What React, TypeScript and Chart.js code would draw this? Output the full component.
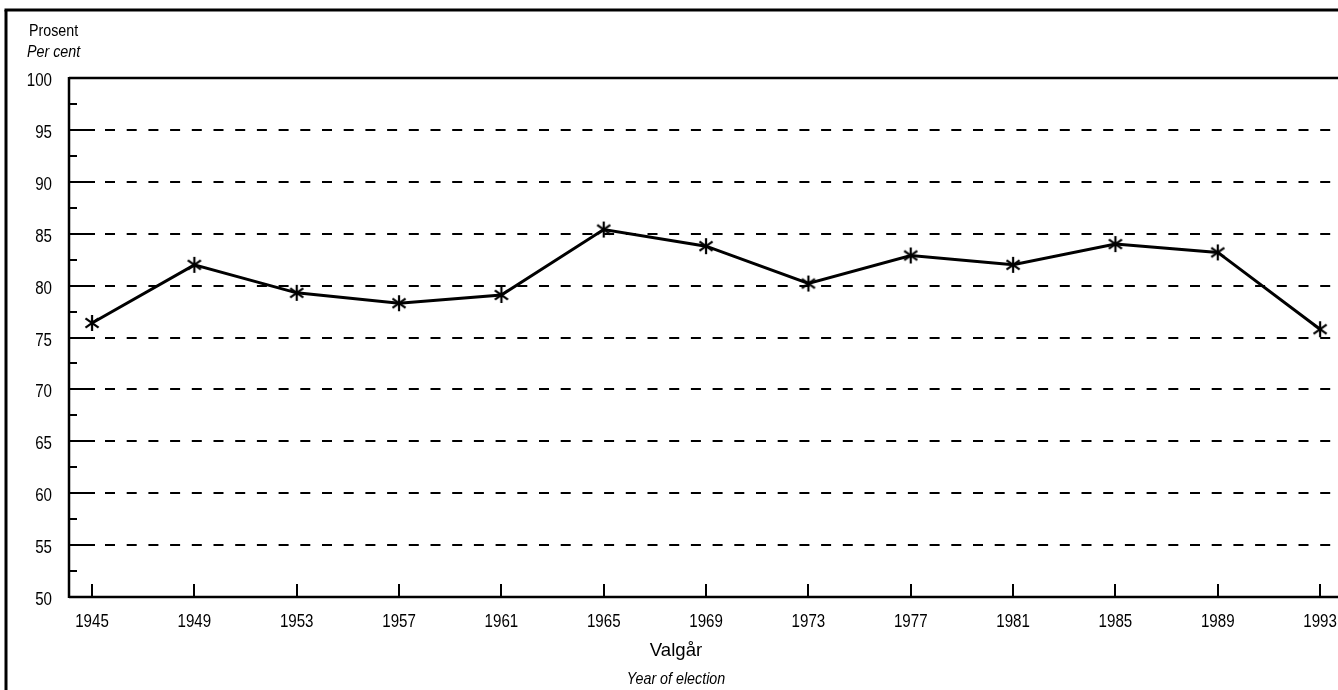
import React, { useEffect, useRef } from 'react';
import { Chart, registerables } from 'chart.js';

Chart.register(...registerables);

const years = [1945, 1949, 1953, 1957, 1961, 1965, 1969, 1973, 1977, 1981, 1985, 1989, 1993];
const turnout = [76.4, 82.0, 79.3, 78.3, 79.1, 85.4, 83.8, 80.2, 82.9, 82.0, 84.0, 83.2, 75.8];
const yTicks = [50, 55, 60, 65, 70, 75, 80, 85, 90, 95, 100];
const yMinorTicks = [52.5, 57.5, 62.5, 67.5, 72.5, 77.5, 82.5, 87.5, 92.5, 97.5];
const yTitle = ['Prosent', 'Per cent'];
const xTitle = ['Valgår', 'Year of election'];

const FAMILY = '"Liberation Sans", Arial, sans-serif';
const SQUEEZE = 0.84;

function makeAsterisk(): HTMLCanvasElement {
  const c = document.createElement('canvas');
  const s = 20;
  c.width = s;
  c.height = s;
  const g = c.getContext('2d')!;
  g.strokeStyle = '#000';
  g.lineWidth = 2.2;
  g.lineCap = 'butt';
  const r = 8;
  const cx = s / 2;
  const cy = s / 2;
  for (const deg of [90, 35, 145]) {
    const t = (deg * Math.PI) / 180;
    g.beginPath();
    g.moveTo(cx - r * Math.cos(t), cy - r * Math.sin(t));
    g.lineTo(cx + r * Math.cos(t), cy + r * Math.sin(t));
    g.stroke();
  }
  return c;
}

function narrowText(
  ctx: CanvasRenderingContext2D,
  text: string,
  x: number,
  y: number,
  align: CanvasTextAlign,
  font: string,
  squeeze = SQUEEZE
) {
  ctx.save();
  ctx.font = font;
  ctx.textAlign = align;
  ctx.textBaseline = 'alphabetic';
  ctx.translate(x, y);
  ctx.scale(squeeze, 1);
  ctx.fillText(text, 0, 0);
  ctx.restore();
}

const decorPlugin = {
  id: 'decor',
  beforeDatasetsDraw(chart: any) {
    const { ctx, chartArea: a, scales } = chart;
    const x = scales.x;
    const y = scales.y;
    const seg = (x1: number, y1: number, x2: number, y2: number) => {
      ctx.beginPath();
      ctx.moveTo(x1, y1);
      ctx.lineTo(x2, y2);
      ctx.stroke();
    };
    ctx.save();
    ctx.strokeStyle = '#000';
    ctx.fillStyle = '#000';
    ctx.lineCap = 'butt';

    // outer frame (left + top)
    ctx.lineWidth = 3;
    seg(6, 10, 6, 690);
    seg(4.5, 10, 1338, 10);

    // dashed horizontal grid lines
    ctx.lineWidth = 2;
    for (const v of yTicks) {
      if (v === 50 || v === 100) continue;
      const py = Math.round(y.getPixelForValue(v));
      ctx.setLineDash([]);
      seg(a.left, py, a.left + 26, py);
      ctx.setLineDash([10, 11.7]);
      seg(a.left + 36, py, a.right - 6, py);
    }
    ctx.setLineDash([]);

    // minor ticks on y axis
    for (const v of yMinorTicks) {
      const py = Math.round(y.getPixelForValue(v));
      seg(a.left, py, a.left + 8, py);
    }

    // x ticks (inward)
    for (const yr of years) {
      const px = Math.round(x.getPixelForValue(yr));
      seg(px, a.bottom, px, a.bottom - 13);
    }

    // axes + top line
    ctx.lineWidth = 2.5;
    seg(a.left, a.top, a.right, a.top);
    seg(a.left, a.top - 1, a.left, a.bottom + 1);
    seg(a.left, a.bottom, a.right, a.bottom);

    // tick labels
    const tickFont = `18px ${FAMILY}`;
    for (const v of yTicks) {
      const py = y.getPixelForValue(v);
      narrowText(ctx, String(v), 52, py + 8, 'right', tickFont);
    }
    for (const yr of years) {
      const px = x.getPixelForValue(yr);
      narrowText(ctx, String(yr), px, 627, 'center', tickFont);
    }

    // titles
    narrowText(ctx, yTitle[0], 29, 36, 'left', `17px ${FAMILY}`);
    narrowText(ctx, yTitle[1], 27, 57, 'left', `italic 17px ${FAMILY}`);
    narrowText(ctx, xTitle[0], 676, 656, 'center', `19px ${FAMILY}`, 0.98);
    narrowText(ctx, xTitle[1], 676, 684, 'center', `italic 17px ${FAMILY}`);
    ctx.restore();
  },
};

export default function App() {
  const ref = useRef<HTMLCanvasElement | null>(null);

  useEffect(() => {
    document.body.style.margin = '0';
    document.body.style.background = '#fff';
    const canvas = ref.current!;
    const marker = makeAsterisk();
    const chart = new Chart(canvas, {
      type: 'line',
      data: {
        datasets: [
          {
            data: years.map((yr, i) => ({ x: yr, y: turnout[i] })),
            borderColor: '#000',
            backgroundColor: '#000',
            borderWidth: 3,
            tension: 0,
            pointStyle: marker as any,
            pointRadius: 9,
            clip: false as any,
          },
        ],
      },
      plugins: [decorPlugin],
      options: {
        animation: false,
        responsive: false,
        maintainAspectRatio: false,
        devicePixelRatio: 1,
        layout: { autoPadding: false, padding: { top: 78, left: 0, right: 0, bottom: 0 } },
        plugins: {
          legend: { display: false },
          tooltip: { enabled: false },
          title: { display: false },
        },
        scales: {
          x: {
            type: 'linear',
            min: 1944.1,
            max: 1993.7,
            afterBuildTicks: (scale: any) => {
              scale.ticks = years.map((v) => ({ value: v }));
            },
            afterFit: (scale: any) => {
              scale.height = 93;
              scale.paddingLeft = 0;
              scale.paddingRight = 0;
            },
            grid: { display: false, drawTicks: false },
            border: { display: false },
            ticks: { display: false },
          },
          y: {
            type: 'linear',
            min: 50,
            max: 100,
            afterBuildTicks: (scale: any) => {
              scale.ticks = yTicks.map((v) => ({ value: v }));
            },
            afterFit: (scale: any) => {
              scale.width = 69;
              scale.paddingTop = 0;
              scale.paddingBottom = 0;
            },
            grid: { display: false, drawTicks: false },
            border: { display: false },
            ticks: { display: false },
          },
        },
      },
    });
    return () => chart.destroy();
  }, []);

  return <canvas ref={ref} width={1338} height={690} style={{ display: 'block' }} />;
}
